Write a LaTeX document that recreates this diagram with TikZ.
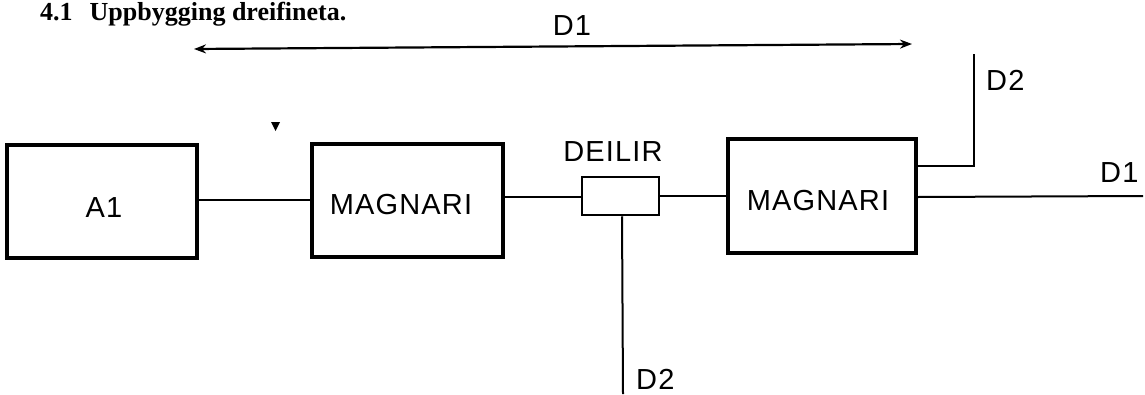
\documentclass[tikz,border=0pt]{standalone}
\usepackage{fontspec}
\usetikzlibrary{arrows.meta}
\newfontfamily\lblfont[LetterSpace=4]{Liberation Sans}
\newfontfamily\ttlfont{Liberation Serif}
\tikzset{
  box/.style={draw, line width=3.5pt, inner sep=0pt, minimum width=#1},
  wire/.style={line width=2pt},
  lbl/.style={inner sep=0pt, font=\lblfont\fontsize{29}{29}\selectfont},
}
\begin{document}
\begin{tikzpicture}[x=1pt,y=-1pt]
\useasboundingbox (0,0) rectangle (1145,394);
% title
\node[anchor=base west, inner sep=0pt, font=\ttlfont\bfseries\fontsize{26}{26}\selectfont] (title) at (40,20.5) {4.1\hspace{17pt}Uppbygging dreifineta.};
% boxes
\node[box=190pt, minimum height=113pt] (a1) at (102,201.5) {};
\node[box=191pt, minimum height=113pt] (m1) at (407.5,200.5) {};
\node[box=77pt, minimum height=38pt, line width=2.5pt] (dl) at (620.5,196) {};
\node[box=188pt, minimum height=114pt] (m2) at (822,196) {};
% labels
\node[lbl, anchor=base] (ta1) at (104,217) {A1};
\node[lbl, anchor=base] (tm1) at (401,214) {MAGNARI};
\node[lbl, anchor=base] (tdl) at (613,161) {DEILIR};
\node[lbl, anchor=base] (tm2) at (818,210) {MAGNARI};
\node[lbl, anchor=base] (td1top) at (572,35) {D1};
\node[lbl, anchor=base west] (td2top) at (986,90) {D2};
\node[lbl, anchor=base west] (td1r) at (1100,182) {D1};
\node[lbl, anchor=base west] (td2b) at (636,389) {D2};
% coordinates
\coordinate (arrL) at (194,49);
\coordinate (arrR) at (912,44);
\coordinate (d2a) at (974,166);
\coordinate (d2b) at (974,54);
\coordinate (d1end) at (1143,196);
\coordinate (dlbot) at (623,394);
% connectors
\draw[wire] (a1.east |- 0,200) -- (m1.west |- 0,200);
\draw[wire] (m1.east |- 0,197) -- (dl.west |- 0,197);
\draw[wire] (dl.east |- 0,196) -- (m2.west |- 0,196);
\draw[wire] (m2.east |- 0,197) -- (d1end);
\draw[wire] (m2.east |- d2a) -- (d2a) -- (d2b);
\draw[wire] (dl.south -| 622,0) -- (dlbot);
\draw[line width=2.2pt, {Stealth[length=12pt,width=9pt]}-{Stealth[length=12pt,width=9pt]}] (arrL) -- (arrR);
% speck
\fill (271,122) -- (280,122) -- (275.5,131) -- cycle;
\end{tikzpicture}
\end{document}
